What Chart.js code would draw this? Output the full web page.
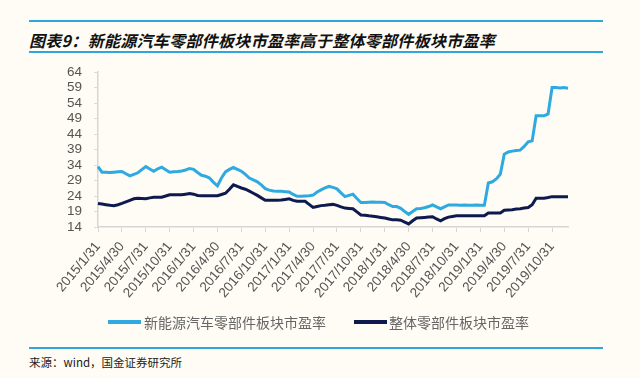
<!DOCTYPE html>
<html>
<head>
<meta charset="utf-8">
<script src="https://cdn.jsdelivr.net/npm/chart.js@4.4.1/dist/chart.umd.min.js"></script>
<style>
  body { margin: 0; background: #fefcf4; width: 640px; height: 378px; overflow: hidden; position: relative; font-family: "Noto Sans CJK SC", sans-serif; }
  .rule { position: absolute; left: 29px; width: 574px; height: 2px; background: #2ea7df; }
  #title { position: absolute; left: 29px; top: 28px; font-size: 16px; font-weight: bold; font-style: italic; color: #111; white-space: nowrap; letter-spacing: 0.3px; }
  #wrap { position: absolute; left: 0; top: 52px; width: 640px; height: 270px; }
  .leg { position: absolute; top: 312px; font-size: 14px; color: #666; white-space: nowrap; line-height: 20px; }
  .leg i { position: absolute; top: 8px; width: 33px; height: 4px; }
  #source { position: absolute; left: 29px; top: 354px; font-size: 11.5px; color: #222; }
</style>
</head>
<body>
<div class="rule" style="top:20px"></div>
<div id="title">图表9：新能源汽车零部件板块市盈率高于整体零部件板块市盈率</div>
<div class="rule" style="top:51px"></div>
<div id="wrap"><canvas id="grafico"></canvas></div>
<div class="leg" style="left:108px"><i style="left:0;background:#2eaae1"></i><span style="margin-left:36px">新能源汽车零部件板块市盈率</span></div>
<div class="leg" style="left:354px"><i style="left:0;background:#0e1a4e"></i><span style="margin-left:35px">整体零部件板块市盈率</span></div>
<div class="rule" style="top:347px"></div>
<div id="source">来源：wind，国金证券研究所</div>
<script>
// semi-monthly observations, 2015/1/31 .. 2019/12/31
const seriesNames = ['新能源汽车零部件板块市盈率', '整体零部件板块市盈率'];
const quarterTicks = [
  '2015/1/31', '2015/4/30', '2015/7/31', '2015/10/31',
  '2016/1/31', '2016/4/30', '2016/7/31', '2016/10/31',
  '2017/1/31', '2017/4/30', '2017/7/31', '2017/10/31',
  '2018/1/31', '2018/4/30', '2018/7/31', '2018/10/31',
  '2019/1/31', '2019/4/30', '2019/7/31', '2019/10/31'
];
const newEnergy = [
  33.5, 31.7, 31.7, 31.6, 31.7, 31.8, 31.9, 31.2, 30.5, 31.0,
  31.5, 32.5, 33.5, 32.7, 32.0, 32.8, 33.3, 32.5, 31.7, 31.8,
  31.9, 32.1, 32.4, 32.9, 32.6, 31.6, 30.7, 30.4, 29.8, 28.4,
  27.3, 29.8, 31.8, 32.6, 33.2, 32.6, 32.0, 31.0, 29.8, 29.2,
  28.6, 27.6, 26.4, 25.9, 25.6, 25.5, 25.5, 25.4, 25.3, 24.5,
  23.9, 23.9, 24.0, 24.1, 24.3, 25.3, 26.0, 26.6, 27.1, 26.8,
  26.3, 25.0, 23.8, 24.2, 24.6, 23.2, 21.9, 21.9, 22.0, 22.1,
  22.0, 22.0, 21.9, 21.2, 20.6, 20.6, 20.0, 19.0, 18.1, 19.0,
  19.9, 20.0, 20.2, 20.6, 21.1, 20.5, 19.9, 20.5, 21.1, 21.1,
  21.1, 21.0, 21.1, 21.0, 21.0, 21.1, 21.0, 21.0, 28.2, 28.6,
  29.5, 31.0, 37.5, 38.2, 38.5, 38.7, 38.8, 40.0, 41.5, 41.8,
  49.9, 49.9, 49.9, 50.5, 59.0, 59.0, 58.9, 59.0, 58.8
];
const overall = [
  21.6, 21.4, 21.2, 21.0, 20.9, 21.2, 21.6, 22.1, 22.6, 23.1,
  23.3, 23.2, 23.1, 23.4, 23.6, 23.6, 23.6, 24.0, 24.4, 24.4,
  24.4, 24.4, 24.6, 24.8, 24.6, 24.2, 24.1, 24.1, 24.1, 24.1,
  24.1, 24.5, 24.9, 26.2, 27.6, 27.1, 26.6, 26.2, 25.6, 24.9,
  24.2, 23.4, 22.6, 22.6, 22.6, 22.6, 22.7, 22.9, 23.1, 22.6,
  22.3, 22.3, 22.3, 21.3, 20.3, 20.6, 20.9, 21.0, 21.2, 21.3,
  21.0, 20.5, 20.1, 20.0, 19.9, 18.9, 17.9, 17.8, 17.6, 17.5,
  17.3, 17.1, 16.9, 16.6, 16.3, 16.3, 16.2, 15.6, 15.0, 16.0,
  16.9, 17.0, 17.1, 17.2, 17.3, 16.6, 16.0, 16.7, 17.2, 17.4,
  17.6, 17.6, 17.6, 17.6, 17.6, 17.6, 17.6, 17.6, 18.5, 18.5,
  18.5, 18.5, 19.4, 19.5, 19.6, 19.8, 19.9, 20.1, 20.3, 21.2,
  23.3, 23.3, 23.3, 23.5, 23.8, 23.8, 23.8, 23.8, 23.8
];

// category labels: month end and mid-month
const lastDay = [31, 28, 31, 30, 31, 30, 31, 31, 30, 31, 30, 31];
const labels = ['2015/1/31'];
for (let y = 2015; y <= 2019; y++) {
  for (let m = (y === 2015 ? 2 : 1); m <= 12; m++) {
    let d = lastDay[m - 1];
    if (m === 2 && y % 4 === 0) d = 29;
    labels.push(`${y}/${m}/15`);
    labels.push(`${y}/${m}/${d}`);
  }
}

const tickFont = { family: 'Liberation Sans, Arial, sans-serif', size: 13.5 };

new Chart(document.getElementById('grafico'), {
  type: 'line',
  data: {
    labels: labels,
    datasets: [
      { label: seriesNames[0], data: newEnergy, borderColor: '#2eaae1', backgroundColor: '#2eaae1', borderWidth: 3, pointRadius: 0, tension: 0 },
      { label: seriesNames[1], data: overall, borderColor: '#0e1a4e', backgroundColor: '#0e1a4e', borderWidth: 3, pointRadius: 0, tension: 0 }
    ]
  },
  options: {
    responsive: true,
    maintainAspectRatio: false,
    animation: false,
    layout: { padding: { left: 0, right: 72, top: 10, bottom: 10 } },
    plugins: { legend: { display: false }, tooltip: { enabled: false } },
    scales: {
      x: {
        afterFit: function (scale) { scale.height = 85; },
        grid: { display: true, drawOnChartArea: false, drawTicks: true, tickLength: 5, color: '#d6d6d6' },
        border: { display: true, color: '#d6d6d6', width: 1.5 },
        ticks: {
          autoSkip: false,
          minRotation: 50,
          maxRotation: 50,
          padding: 7,
          color: '#555',
          font: tickFont,
          callback: function (value) {
            const lab = this.getLabelForValue(value);
            return quarterTicks.includes(lab) ? lab : null;
          }
        }
      },
      y: {
        min: 14,
        max: 64,
        afterFit: function (scale) { scale.width = 98; },
        grid: { display: true, drawOnChartArea: false, drawTicks: true, tickLength: 4, color: '#dcdcdc' },
        border: { display: true, color: '#d6d6d6', width: 1.5 },
        ticks: { stepSize: 5, autoSkip: false, padding: 12, color: '#555', font: tickFont }
      }
    }
  }
});
</script>
</body>
</html>
